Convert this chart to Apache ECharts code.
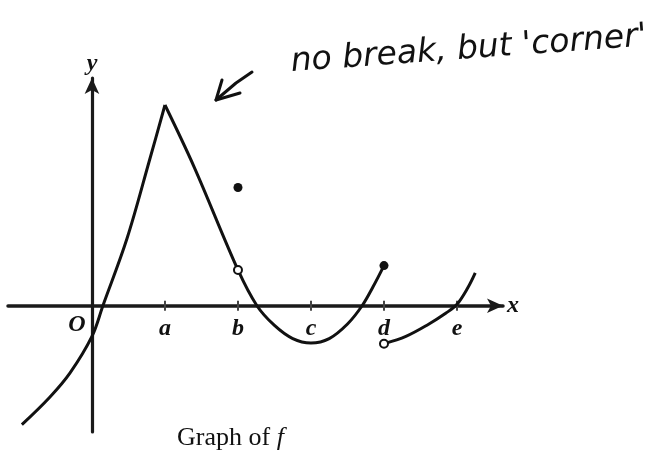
<!DOCTYPE html>
<html>
<head>
<meta charset="utf-8">
<script src="https://cdn.jsdelivr.net/npm/echarts@6/dist/echarts.min.js"></script>
<style>
  html, body { margin: 0; padding: 0; background: #fff; }
  #chart { width: 654px; height: 454px; }
</style>
</head>
<body>
<div id="chart"></div>
<script>
// Piecewise function f, sampled as [x, f(x)] pairs (x in units of the tick spacing).
var leftBranch = [
  [-0.96, -1.63], [-0.575, -1.25], [-0.30, -0.92], [0, -0.42],
  [0.15, 0], [0.48, 0.92], [0.79, 2.0], [1, 2.75]
];
var middleBranch = [
  [1, 2.75], [1.4, 1.9], [2, 0.49], [2.26, 0], [2.5, -0.27],
  [2.75, -0.45], [3, -0.51], [3.25, -0.45], [3.5, -0.25],
  [3.70, 0], [3.85, 0.26], [4, 0.55]
];
var rightBranch = [
  [4, -0.52], [4.3, -0.42], [4.6, -0.26], [4.85, -0.1],
  [5, 0.02], [5.15, 0.25], [5.25, 0.45]
];
var filledDots = [[2, 1.62], [4, 0.55]];
var openDots = [[2, 0.49], [4, -0.52]];
var tickValues = [0, 1, 2, 3, 4, 5];
var tickNames = ['O', 'a', 'b', 'c', 'd', 'e'];
var caption = 'Graph of ';
var captionVar = 'f';
var note = "no break, but 'corner'";

var INK = '#111';
var SERIF = '"Liberation Serif", "DejaVu Serif", serif';

var chart = echarts.init(document.getElementById('chart'), null, { renderer: 'canvas' });

function curve(data) {
  return {
    type: 'line', data: data, smooth: 0.35, showSymbol: false, silent: true,
    lineStyle: { color: INK, width: 3 }, z: 3
  };
}

// tick marks with their letter labels, sitting on the x axis
var tickData = tickValues.map(function (v, i) {
  var item = { value: [v, 0], name: tickNames[i] };
  if (v === 0) {
    // origin: no tick mark, label set to the left of the y axis
    item.symbolSize = 0;
    item.label = { offset: [-15, 1] };
  }
  return item;
});

var letterStyle = { fontFamily: SERIF, fontStyle: 'italic', fontWeight: 'bold', fontSize: 24, color: INK };

chart.setOption({
  backgroundColor: '#fff',
  animation: false,
  grid: { left: 8, right: 151, top: 78, bottom: 22, outerBoundsMode: 'none', containLabel: false },
  xAxis: {
    type: 'value', min: -1.15, max: 5.63,
    name: 'x', nameLocation: 'end', nameGap: 4,
    nameTextStyle: letterStyle,
    axisLine: { onZero: true, lineStyle: { color: '#1a1a1a', width: 3.5 },
                symbol: ['none', 'arrow'], symbolSize: [11, 16] },
    axisTick: { show: false },
    axisLabel: { show: false },
    splitLine: { show: false }
  },
  yAxis: {
    type: 'value', min: -1.73, max: 3.12,
    name: 'y', nameLocation: 'end', nameGap: 2,
    nameTextStyle: letterStyle,
    axisLine: { onZero: true, lineStyle: { color: '#1a1a1a', width: 3.2 },
                symbol: ['none', 'arrow'], symbolSize: [11, 16] },
    axisTick: { show: false },
    axisLabel: { show: false },
    splitLine: { show: false }
  },
  series: [
    curve(leftBranch),
    curve(middleBranch),
    curve(rightBranch),
    {
      type: 'scatter', silent: true, z: 2,
      data: tickData,
      symbol: 'rect', symbolSize: [2, 10],
      itemStyle: { color: '#444', opacity: 1 },
      label: Object.assign({ show: true, position: 'bottom', distance: 6, formatter: '{b}' }, letterStyle)
    },
    {
      type: 'scatter', silent: true, z: 5,
      data: filledDots, symbol: 'circle', symbolSize: 9,
      itemStyle: { color: INK, opacity: 1 }
    },
    {
      type: 'scatter', silent: true, z: 5,
      data: openDots, symbol: 'circle', symbolSize: 8,
      itemStyle: { color: '#fff', borderColor: INK, borderWidth: 2, opacity: 1 }
    }
  ],
  graphic: [
    {
      type: 'text', left: 177, top: 425, z: 10,
      style: {
        text: '{n|' + caption + '}{f|' + captionVar + '}',
        rich: {
          n: { fontFamily: SERIF, fontSize: 26, fill: INK },
          f: { fontFamily: SERIF, fontSize: 26, fontStyle: 'italic', fill: INK }
        }
      }
    },
    {
      type: 'text', x: 292, y: 79, rotation: 0.072, z: 10,
      style: {
        text: note, fontFamily: '"DejaVu Sans", sans-serif', fontStyle: 'italic',
        fontSize: 33, fill: INK, verticalAlign: 'bottom'
      }
    },
    {
      type: 'group', z: 10,
      children: [
        { type: 'polyline', shape: { points: [[252, 72], [236, 83], [216, 100]] },
          style: { stroke: INK, lineWidth: 3, fill: null, lineCap: 'round', lineJoin: 'round' } },
        { type: 'polyline', shape: { points: [[222, 80], [216, 100], [240, 93]] },
          style: { stroke: INK, lineWidth: 3, fill: null, lineCap: 'round', lineJoin: 'round' } }
      ]
    }
  ]
});
</script>
</body>
</html>
